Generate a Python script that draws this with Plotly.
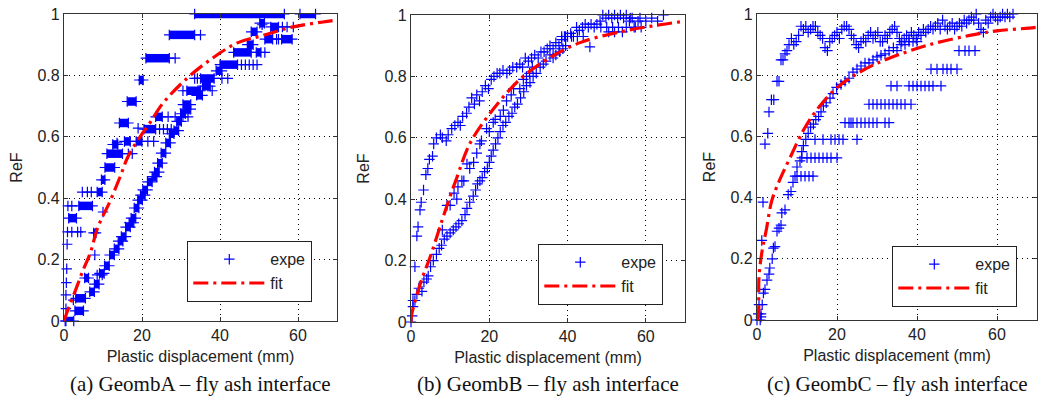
import plotly.graph_objects as go

W, H = 1041, 399

# ---------------- Panel (a) GeombA ----------------
A_pts_x = [0.3, 0.5, 0.5, 0.6, 0.7, 0.8, 0.9, 2.0, 3.5, 4.3, 1.0, 2.0, 10.0, 4.7, 6.0, 7.0,
           7.9, 8.5, 9.8, 2.4, 13.6, 16.5, 17.5, 21.5, 23.0, 19.0, 24.5, 25.5, 26.5, 27.5,
           26.7, 28.5, 30.5, 31.8, 28.5, 35.0, 30.5, 38.0, 33.5, 34.2, 40.5, 42.0, 45.5,
           46.5, 47.5, 48.5, 49.5, 51.5, 54.5, 55.0, 56.0, 57.2, 58.8, 50.8]
A_pts_y = [0.0, 0.04, 0.085, 0.125, 0.17, 0.25, 0.29, 0.29, 0.29, 0.29, 0.375, 0.375, 0.355,
           0.42, 0.42, 0.42, 0.215, 0.15, 0.15, 0.068, 0.58, 0.545, 0.545, 0.585, 0.585, 0.628,
           0.625, 0.625, 0.625, 0.625, 0.665, 0.665, 0.665, 0.665, 0.856, 0.932, 0.75, 0.75,
           0.79, 0.79, 0.79, 0.79, 0.835, 0.835, 0.835, 0.835, 0.835, 0.875, 0.918, 0.918,
           0.958, 0.958, 0.958, 0.965]

# dense runs of '+' markers that merge into solid bars: level, first and last x
A_blk_y = [1.0, 1.0, 0.97, 0.958, 0.942, 0.932, 0.918, 0.918, 0.90, 0.875, 0.875, 0.856,
           0.835, 0.815, 0.79, 0.785, 0.765, 0.75, 0.735, 0.715, 0.705, 0.69, 0.665, 0.645,
           0.625, 0.62, 0.585, 0.585, 0.575, 0.545, 0.50, 0.46, 0.42, 0.375, 0.335, 0.287,
           0.14, 0.074, 0.033, 0.0,
           0.095, 0.12, 0.155, 0.18, 0.215, 0.235, 0.26, 0.275, 0.306, 0.32, 0.335, 0.368,
           0.394, 0.41, 0.427, 0.453, 0.47, 0.485, 0.514, 0.547, 0.58, 0.61, 0.65, 0.675]
A_blk_x0 = [33.5, 60.5, 50.2, 53.0, 48.0, 27.0, 51.5, 55.8, 47.0, 43.5, 49.3, 21.0,
            40.0, 39.0, 35.0, 19.3, 35.5, 31.5, 34.0, 16.2, 30.5, 31.0, 23.5, 14.2,
            20.5, 28.2, 15.5, 18.5, 12.5, 11.0, 10.5, 9.6, 8.5, 3.8, 1.2, 7.6,
            5.3, 3.0, 2.8, 0.5,
            6.6, 7.8, 9.1, 10.4, 11.7, 12.9, 13.9, 14.7, 15.8, 16.7, 17.2, 18.0,
            18.9, 19.6, 20.2, 21.4, 22.6, 23.2, 24.0, 24.9, 26.1, 27.0, 28.9, 29.9]
A_blk_x1 = [56.5, 64.5, 51.4, 55.0, 49.5, 33.5, 53.5, 58.5, 48.5, 48.0, 50.5, 27.0,
            44.5, 40.5, 38.5, 20.3, 37.5, 35.0, 35.5, 18.5, 32.5, 32.5, 25.2, 16.5,
            23.5, 29.4, 17.0, 20.0, 13.8, 15.0, 13.0, 10.5, 9.8, 7.3, 3.2, 8.2,
            6.3, 5.5, 5.0, 2.5,
            7.8, 9.0, 10.3, 11.6, 12.9, 14.1, 15.1, 15.9, 17.0, 17.9, 18.4, 19.2,
            20.1, 20.8, 21.4, 22.6, 23.8, 24.4, 25.2, 26.1, 27.3, 28.2, 30.1, 31.1]

A_fit_x = [0, 0.7, 2.8, 4.9, 6.7, 8.7, 11.8, 14.4, 16.4, 19.5, 22, 25.4, 31.5, 37.4, 44.3,
           51, 58.7, 66.4, 70]
A_fit_y = [0, 0.026, 0.095, 0.166, 0.22, 0.306, 0.39, 0.47, 0.535, 0.6, 0.645, 0.71, 0.79,
           0.85, 0.905, 0.93, 0.958, 0.974, 0.98]

# ---------------- Panel (b) GeombB ----------------
B_x = [0, 0.3, 0.5, 1, 1.5, 1.8, 2.3, 2.6, 3.2, 3.8, 4.3, 4.7, 5.5, 5.8, 6.5, 7.5, 8, 9, 9.5,
       10.4, 11.2, 12, 12.6, 13.2, 14.2, 14.8, 15.5, 16.2, 16.8, 17.5, 18.2, 19, 19.8, 20.5,
       21.2, 22, 22.7, 23.5, 24.5, 25.2, 26, 27, 27.8, 28.5, 29.2, 30, 30.8, 31.6, 32.5, 33.2,
       34, 34.8, 35.5, 36.3, 37, 37.8, 38.5, 39.2, 40, 40.8, 41.5, 42.3, 43, 43.8, 44.5, 45.3,
       46, 46.8, 47.5, 48.3, 49, 49.8, 50.5, 51.3, 52, 52.8, 53.5, 54.3, 55, 55.8, 56.5, 57.3,
       58, 58.8, 60, 61.5, 63, 64.5, 45.7, 38.5, 39.5, 41, 42.5, 44, 48.5, 50, 51.5, 53, 55,
       57, 50.5, 52, 54, 56, 58.5,
       0.5, 1, 1.5, 2, 2.8, 3.3, 4, 4.4, 5, 5.7, 6.5, 7.2, 7.8, 8.5, 9.2, 10, 10.8, 11.5, 12.2,
       13, 13.8, 14.3, 15, 15.9, 16.5, 17, 17.6, 18.2, 18.8, 19.5, 20, 20.5, 21, 21.6, 22.2,
       22.8, 23.5, 24.2, 25, 25.8, 26.5, 27.2, 28, 28.8, 29.5, 30.4, 31.2, 32, 33, 33.8, 34.5,
       35.5, 36.3, 37, 38, 38.8, 39.5,
       8, 9.2, 10, 11, 11.7, 12, 13, 13.5, 14.3, 15, 16, 16.8, 17.6, 18, 19.3, 20, 21, 21.5,
       22.8, 23.6, 24.4, 25.6, 26.2, 27.8, 28.7, 29.5, 30.3, 31]
B_y = [0, 0.02, 0.07, 0.18, 0.28, 0.31, 0.365, 0.39, 0.43, 0.48, 0.5, 0.53, 0.54, 0.58, 0.6,
       0.61, 0.6, 0.59, 0.61, 0.63, 0.64, 0.65, 0.64, 0.67, 0.68, 0.7, 0.73, 0.71, 0.74, 0.72,
       0.75, 0.77, 0.76, 0.79, 0.8, 0.81, 0.81, 0.82, 0.81, 0.82, 0.83, 0.83, 0.84, 0.83, 0.86,
       0.85, 0.86, 0.87, 0.86, 0.88, 0.88, 0.89, 0.9, 0.89, 0.91, 0.9, 0.92, 0.93, 0.93, 0.94,
       0.93, 0.96, 0.95, 0.96, 0.97, 0.96, 0.97, 0.96, 0.97, 0.98, 1.0, 0.99, 1.0, 0.99, 1.0,
       0.99, 1.0, 0.99, 1.0, 0.98, 0.99, 0.96, 0.98, 0.96, 0.98, 0.99, 0.98, 1.0, 0.896, 0.93,
       0.93, 0.93, 0.93, 0.93, 0.96, 0.96, 0.96, 0.96, 0.96, 0.96, 0.945, 0.945, 0.945, 0.99,
       0.99,
       0.05, 0.07, 0.09, 0.11, 0.1, 0.13, 0.14, 0.15, 0.18, 0.2, 0.22, 0.24, 0.25, 0.27, 0.28,
       0.29, 0.3, 0.31, 0.32, 0.33, 0.35, 0.37, 0.39, 0.41, 0.43, 0.45, 0.46, 0.47, 0.49, 0.5,
       0.52, 0.54, 0.56, 0.58, 0.6, 0.62, 0.64, 0.65, 0.67, 0.68, 0.7, 0.71, 0.73, 0.75, 0.77,
       0.78, 0.8, 0.81, 0.83, 0.84, 0.85, 0.87, 0.86, 0.87, 0.88, 0.89, 0.9,
       0.3, 0.38, 0.38, 0.42, 0.4, 0.44, 0.46, 0.46, 0.515, 0.5, 0.52, 0.55, 0.58, 0.59, 0.63,
       0.62, 0.65, 0.66, 0.67, 0.69, 0.72, 0.74, 0.76, 0.76, 0.79, 0.8, 0.81, 0.83]

B_fit_x = [0, 0.2, 2.7, 4.85, 7.4, 10, 11.7, 15, 20.2, 27.8, 34.7, 43.2, 53.4, 62, 70]
B_fit_y = [0, 0.026, 0.137, 0.21, 0.31, 0.41, 0.47, 0.58, 0.68, 0.79, 0.855, 0.91, 0.945,
           0.965, 0.98]

# ---------------- Panel (c) GeombC ----------------
C_x = [0, 0.3, 0.5, 0.8, 1, 1.2, 1.5, 2, 2.7, 3, 3.6, 4.2, 5, 5.5, 6, 6.5, 7, 7.5, 8, 8.6,
       9.2, 9.8, 10.4, 11, 11.6, 12.2, 12.8, 13.4, 14, 14.6, 15.2, 15.8, 16.4, 17, 17.6, 18.2,
       18.8, 19.4, 20, 20.6, 21.2, 21.8, 22.4, 23, 23.6, 24.2, 24.8, 25.4, 26, 26.6, 27.2,
       27.8, 28.4, 29, 29.6, 30.2, 30.8, 31.4, 32, 32.6, 33.2, 33.8, 34.4, 35, 35.6, 36.2,
       36.8, 37.4, 38, 38.6, 39.2, 39.8, 40.4, 41, 41.6, 42.2, 42.8, 43.4, 44, 44.6, 45.2,
       45.8, 46.4, 47, 47.6, 48.2, 48.8, 49.4, 50, 50.6, 51.2, 51.8, 52.4, 53, 53.6, 54.2,
       54.8, 55.4, 56, 56.6, 57.2, 57.8, 58.4, 59, 59.6, 60.2, 60.8, 61.4, 62, 62.6, 63.2, 64,
       1, 1.3, 1.6, 2, 2.5, 3, 3.2, 3.8, 4.1, 4.5, 5, 5.5, 6, 6.2, 7, 7.8, 8.5, 9, 9.5, 10,
       10.75, 11.2, 11.6, 12.2, 12.8, 13.4, 14.1, 14.7, 15.4, 16, 16.6, 17.3, 18.25, 19, 19.9,
       21, 22, 23, 24, 25, 26, 27, 28, 29, 30, 31, 32, 33, 34.1, 35, 36, 37, 38, 39, 40,
       10, 11, 12, 13, 14,
       11.2, 12.5, 13.5, 14.5, 15.5, 16.5, 17.5, 18.5, 20,
       14.5, 16.5, 18.5, 19.5, 20.5, 21.5, 25,
       22, 23, 23.5, 24, 25, 26, 27, 28, 29, 30, 32, 33,
       28, 29, 30, 31, 32, 33, 34, 35, 36, 37, 38.5,
       33.5, 35, 38, 39, 40, 41, 42, 43, 44, 46,
       43.5, 45, 46.5, 47.5, 48.5, 50,
       50.5, 52, 53, 54.5]
C_y = [0, 0.02, 0.05, 0.0, 0.02, 0.26, 0.385, 0.575, 0.61, 0.68, 0.72, 0.72, 0.78, 0.78,
       0.85, 0.85, 0.87, 0.88, 0.9, 0.92, 0.9, 0.91, 0.93, 0.96, 0.95, 0.96, 0.94, 0.95, 0.96,
       0.96, 0.94, 0.93, 0.92, 0.89, 0.88, 0.91, 0.92, 0.93, 0.94, 0.92, 0.95, 0.96, 0.96,
       0.95, 0.93, 0.92, 0.9, 0.89, 0.91, 0.92, 0.91, 0.93, 0.94, 0.92, 0.93, 0.94, 0.91,
       0.91, 0.93, 0.92, 0.94, 0.95, 0.96, 0.94, 0.92, 0.91, 0.92, 0.93, 0.92, 0.94, 0.93,
       0.92, 0.94, 0.93, 0.95, 0.94, 0.95, 0.96, 0.95, 0.96, 0.97, 0.95, 0.98, 0.96, 0.95,
       0.96, 0.97, 0.95, 0.96, 0.97, 0.96, 0.98, 0.97, 0.98, 0.99, 0.98, 1.0, 0.97, 0.95,
       0.94, 0.98, 0.97, 0.99, 1.0, 0.99, 0.98, 0.99, 1.0, 0.99, 1.0, 0.99, 1.0,
       0.01, 0.05, 0.088, 0.1, 0.13, 0.15, 0.17, 0.2, 0.235, 0.24, 0.29, 0.3, 0.31, 0.35, 0.36,
       0.41, 0.42, 0.45, 0.47, 0.5, 0.52, 0.55, 0.57, 0.59, 0.61, 0.63, 0.64, 0.655, 0.665,
       0.68, 0.7, 0.71, 0.725, 0.74, 0.76, 0.77, 0.78, 0.79, 0.81, 0.82, 0.83, 0.84, 0.84,
       0.85, 0.86, 0.865, 0.87, 0.88, 0.89, 0.88, 0.9, 0.9, 0.91, 0.91, 0.91,
       0.47, 0.47, 0.47, 0.47, 0.47,
       0.53, 0.53, 0.53, 0.53, 0.53, 0.53, 0.53, 0.53, 0.53,
       0.59, 0.59, 0.59, 0.59, 0.59, 0.59, 0.59,
       0.645, 0.645, 0.645, 0.645, 0.645, 0.645, 0.645, 0.645, 0.645, 0.645, 0.645, 0.645,
       0.705, 0.705, 0.705, 0.705, 0.705, 0.705, 0.705, 0.705, 0.705, 0.705, 0.705,
       0.765, 0.765, 0.765, 0.765, 0.765, 0.765, 0.765, 0.765, 0.765, 0.765,
       0.82, 0.82, 0.82, 0.82, 0.82, 0.82,
       0.88, 0.88, 0.88, 0.88]

C_fit_x = [0, 0.3, 0.5, 1.2, 2.4, 3.7, 5.75, 8.25, 11.6, 14.9, 19.9, 26.6, 33.2, 43.2, 53.2,
           60, 68, 70]
C_fit_y = [0, 0.01, 0.14, 0.22, 0.30, 0.39, 0.46, 0.53, 0.62, 0.686, 0.758, 0.817, 0.856,
           0.9, 0.93, 0.945, 0.954, 0.957]

captions = ["(a) GeombA \u2013 fly ash interface",
            "(b) GeombB \u2013 fly ash interface",
            "(c) GeombC \u2013 fly ash interface"]

# ---------------- layout helpers ----------------
# plot areas in pixels (left, right, top, bottom)
areas = [(64, 337, 14, 321), (411, 685, 15, 322), (757, 1037, 14, 320)]
legend_pos = [(187, 241), (538, 244), (892, 246)]

BLUE = "#0000FF"
RED = "#FF0000"
SANS = "Liberation Sans, Arial, sans-serif"
TICKFONT = dict(family=SANS, size=16, color="#222")

fig = go.Figure()

plus_marker = dict(symbol="cross-thin", size=7.5, color=BLUE, line=dict(color=BLUE, width=1.2))


def add_panel(i, px, py, fx, fy, blk=None):
    sfx = "" if i == 0 else str(i + 1)
    xa, ya = "x" + sfx, "y" + sfx
    lg = "legend" + sfx
    if blk is not None:
        by, bx0, bx1 = blk
        xs, ys = [], []
        for yv, a, b in zip(by, bx0, bx1):
            xs += [a, b, None]
            ys += [yv, yv, None]
        fig.add_trace(go.Scatter(x=xs, y=ys, mode="lines+markers", xaxis=xa, yaxis=ya,
                                 line=dict(color=BLUE, width=8.5), marker=plus_marker,
                                 showlegend=False, cliponaxis=False, hoverinfo="skip"))
    fig.add_trace(go.Scatter(x=px, y=py, mode="markers", name="expe", xaxis=xa, yaxis=ya,
                             marker=plus_marker, cliponaxis=False, legend=lg))
    fig.add_trace(go.Scatter(x=fx, y=fy, mode="lines", name="fit", xaxis=xa, yaxis=ya,
                             line=dict(color=RED, width=3.2, dash="15px,5px,3px,5px",
                                       shape="spline"),
                             legend=lg))


add_panel(0, A_pts_x, A_pts_y, A_fit_x, A_fit_y, (A_blk_y, A_blk_x0, A_blk_x1))
add_panel(1, B_x, B_y, B_fit_x, B_fit_y)
add_panel(2, C_x, C_y, C_fit_x, C_fit_y)

layout = dict(width=W, height=H, margin=dict(l=0, r=0, t=0, b=0, autoexpand=False),
              paper_bgcolor="white", plot_bgcolor="white", showlegend=True)
annotations = []
for i, (l, r, t, b) in enumerate(areas):
    sfx = "" if i == 0 else str(i + 1)
    xdom = [l / W, r / W]
    ydom = [1 - b / H, 1 - t / H]
    common = dict(showline=True, linecolor="#333", linewidth=1.2, mirror="ticks",
                  ticks="inside", ticklen=4, tickcolor="#333", showgrid=True,
                  gridcolor="#000", griddash="1px,4px", gridwidth=1, zeroline=False,
                  tickfont=TICKFONT, automargin=False)
    layout["xaxis" + sfx] = dict(domain=xdom, range=[0, 70], tickvals=[0, 20, 40, 60],
                                 anchor="y" + sfx,
                                 title=dict(text="Plastic displacement (mm)",
                                            font=dict(family=SANS, size=16, color="#222"),
                                            standoff=7),
                                 **common)
    layout["yaxis" + sfx] = dict(domain=ydom, range=[0, 1], tickvals=[0, 0.2, 0.4, 0.6, 0.8, 1],
                                 ticktext=["0", "0.2", "0.4", "0.6", "0.8", "1"],
                                 anchor="x" + sfx,
                                 title=dict(text="ReF",
                                            font=dict(family=SANS, size=16, color="#222"),
                                            standoff=10),
                                 **common)
    lx, ly = legend_pos[i]
    layout["legend" + sfx] = dict(x=lx / W, y=1 - ly / H, xanchor="left", yanchor="top",
                                  bgcolor="white", bordercolor="#222", borderwidth=1.3,
                                  font=dict(family=SANS, size=16, color="#222"),
                                  itemwidth=72, entrywidth=40, entrywidthmode="pixels",
                                  tracegroupgap=0)
    annotations.append(dict(text=captions[i], x=(l + r) / 2 / W, y=1 - 384 / H,
                            xref="paper", yref="paper", xanchor="center", yanchor="middle",
                            showarrow=False,
                            font=dict(family="Liberation Serif, Times New Roman, serif",
                                      size=21, color="#111")))
layout["annotations"] = annotations
fig.update_layout(**layout)

fig.write_html("out.html", config={"displayModeBar": False},
               post_script="document.body.style.margin='0';document.body.style.padding='0';"
                           "document.documentElement.style.overflow='hidden';")
